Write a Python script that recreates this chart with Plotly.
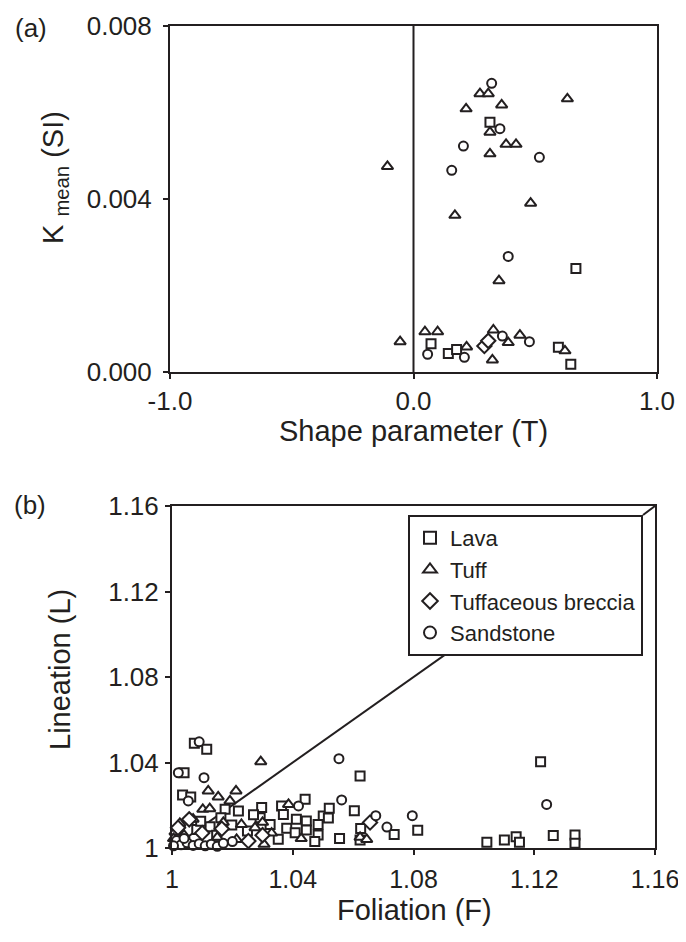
import plotly.graph_objects as go

# ---------------- Panel (a): Shape parameter T vs K mean ----------------
a_lava_T = [0.314, 0.667, 0.072, 0.143, 0.177, 0.595, 0.646]
a_lava_K = [0.00577, 0.00239, 0.00065, 0.00043, 0.00052, 0.00057, 0.00018]

a_tuff_T = [-0.107, 0.273, 0.307, 0.362, 0.216, 0.314, 0.314, 0.632, 0.380, 0.421,
            0.481, 0.170, 0.351, 0.328, 0.389, 0.437, 0.324, 0.622, -0.055, 0.047,
            0.099, 0.218]
a_tuff_K = [0.00475, 0.00643, 0.00643, 0.00617, 0.00608, 0.00554, 0.00504, 0.00631, 0.00526, 0.00526,
            0.00390, 0.00362, 0.00211, 0.00097, 0.00068, 0.00085, 0.00028, 0.00049, 0.00070, 0.00093,
            0.00093, 0.00058]

a_brec_T = [0.291, 0.307]
a_brec_K = [0.00060, 0.00072]

a_sand_T = [0.321, 0.355, 0.205, 0.157, 0.517, 0.389, 0.365, 0.476, 0.058, 0.209]
a_sand_K = [0.00667, 0.00562, 0.00522, 0.00466, 0.00496, 0.00267, 0.00083, 0.00070, 0.00041, 0.00034]

# ---------------- Panel (b): Foliation F vs Lineation L ----------------
b_lava_F = [1.0074, 1.0115, 1.0040, 1.0035, 1.0062, 1.0441, 1.0297, 1.0363, 1.0176, 1.0220,
            1.0369, 1.0412, 1.0445, 1.0292, 1.0162, 1.0126, 1.0198, 1.0082, 1.0325, 1.0501,
            1.0484, 1.0380, 1.0408, 1.0445, 1.0352, 1.0484, 1.0473, 1.0623, 1.0521, 1.0518,
            1.0604, 1.0625, 1.0736, 1.0814, 1.0555, 1.0623, 1.1043, 1.1101, 1.1140, 1.1151,
            1.1221, 1.1263, 1.1335, 1.1335, 1.0095, 1.0148, 1.0250, 1.0270]
b_lava_L = [1.0490, 1.0462, 1.0352, 1.0248, 1.0239, 1.0228, 1.0189, 1.0197, 1.0181, 1.0173,
            1.0157, 1.0134, 1.0126, 1.0142, 1.0142, 1.0100, 1.0108, 1.0087, 1.0110, 1.0150,
            1.0110, 1.0092, 1.0071, 1.0084, 1.0041, 1.0061, 1.0030, 1.0337, 1.0186, 1.0140,
            1.0174, 1.0091, 1.0063, 1.0083, 1.0044, 1.0037, 1.0027, 1.0037, 1.0053, 1.0027,
            1.0404, 1.0058, 1.0061, 1.0022, 1.0125, 1.0060, 1.0080, 1.0155]

b_tuff_F = [1.0294, 1.0120, 1.0153, 1.0212, 1.0192, 1.0386, 1.0102, 1.0125, 1.0026, 1.0010,
            1.0005, 1.0214, 1.0305, 1.0428, 1.0623, 1.0645, 1.0070, 1.0170, 1.0230, 1.0275,
            1.0330, 1.0040, 1.0150, 1.0300]
b_tuff_L = [1.0404, 1.0267, 1.0239, 1.0267, 1.0220, 1.0204, 1.0181, 1.0184, 1.0115, 1.0075,
            1.0044, 1.0040, 1.0017, 1.0044, 1.0050, 1.0040, 1.0135, 1.0120, 1.0110, 1.0095,
            1.0070, 1.0060, 1.0050, 1.0120]

b_brec_F = [1.0057, 1.0253, 1.0656, 1.0020, 1.0100, 1.0165, 1.0300]
b_brec_L = [1.0134, 1.0033, 1.0119, 1.0095, 1.0070, 1.0090, 1.0060]

b_sand_F = [1.0553, 1.0562, 1.0675, 1.0712, 1.0796, 1.1241, 1.0090, 1.0021, 1.0106, 1.0054,
            1.0419, 1.0015, 1.0030, 1.0050, 1.0070, 1.0090, 1.0110, 1.0130, 1.0150, 1.0170,
            1.0005, 1.0040, 1.0200]
b_sand_L = [1.0418, 1.0225, 1.0151, 1.0098, 1.0151, 1.0204, 1.0497, 1.0352, 1.0329, 1.0220,
            1.0197, 1.0035, 1.0015, 1.0025, 1.0012, 1.0020, 1.0010, 1.0018, 1.0008, 1.0022,
            1.0010, 1.0045, 1.0030]

# 1:1 reference line (L = F)
ref_line = [1.0, 1.12]

a_xticks = [-1.0, 0.0, 1.0]
a_xticklabels = ["-1.0", "0.0", "1.0"]
a_yticks = [0.0, 0.004, 0.008]
a_yticklabels = ["0.000", "0.004", "0.008"]
b_ticks = [1.0, 1.04, 1.08, 1.12, 1.16]
b_ticklabels = ["1", "1.04", "1.08", "1.12", "1.16"]

INK = "#231f20"
FONT = "Liberation Sans, Arial, sans-serif"
W, H = 686, 942
OFF = 8  # page body margin offset


def px(x):
    return (x - OFF) / W


def py(y):
    return 1 - (y - OFF) / H


styles = {
    "Lava": dict(symbol="square", size=9),
    "Tuff": dict(symbol="triangle-up", size=10),
    "Tuffaceous breccia": dict(symbol="diamond", size=11),
    "Sandstone": dict(symbol="circle", size=9),
}


def marker(name):
    s = styles[name]
    return dict(symbol=s["symbol"], size=s["size"], color="white",
                line=dict(color=INK, width=2))


fig = go.Figure()

# Panel (b) reference line first (below markers)
fig.add_trace(go.Scatter(x=ref_line, y=ref_line, mode="lines", line=dict(color=INK, width=2),
                         showlegend=False, xaxis="x2", yaxis="y2", hoverinfo="skip"))

panel_a = [("Lava", a_lava_T, a_lava_K), ("Tuff", a_tuff_T, a_tuff_K),
           ("Tuffaceous breccia", a_brec_T, a_brec_K), ("Sandstone", a_sand_T, a_sand_K)]
panel_b = [("Lava", b_lava_F, b_lava_L), ("Tuff", b_tuff_F, b_tuff_L),
           ("Tuffaceous breccia", b_brec_F, b_brec_L), ("Sandstone", b_sand_F, b_sand_L)]

for name, xs, ys in panel_a:
    fig.add_trace(go.Scatter(x=xs, y=ys, mode="markers", marker=marker(name), name=name,
                             showlegend=False, xaxis="x", yaxis="y", cliponaxis=False))
for name, xs, ys in panel_b:
    fig.add_trace(go.Scatter(x=xs, y=ys, mode="markers", marker=marker(name), name=name,
                             showlegend=True, xaxis="x2", yaxis="y2", cliponaxis=False))


def axis_style(size):
    return dict(showline=True, mirror=True, linecolor=INK, linewidth=2,
                ticks="outside", ticklen=5, tickwidth=2, tickcolor=INK,
                showgrid=False, zeroline=False, automargin=False,
                tickfont=dict(family=FONT, size=size, color=INK))


fig.update_layout(
    template="none",
    width=W, height=H,
    margin=dict(l=0, r=0, t=0, b=0, pad=0),
    paper_bgcolor="white", plot_bgcolor="white",
    xaxis=dict(domain=[px(170), px(657)], range=[-1, 1], tickvals=a_xticks,
               ticktext=a_xticklabels, anchor="y", ticklabelstandoff=0, **axis_style(26)),
    yaxis=dict(domain=[py(372), py(25.7)], range=[0, 0.008], tickvals=a_yticks,
               ticktext=a_yticklabels, anchor="x", ticklabelstandoff=6, **axis_style(26)),
    xaxis2=dict(domain=[px(172), px(655)], range=[1, 1.16], tickvals=b_ticks,
                ticktext=b_ticklabels, anchor="y2", ticklabelstandoff=3, **axis_style(25)),
    yaxis2=dict(domain=[py(848), py(506)], range=[1, 1.16], tickvals=b_ticks,
                ticktext=b_ticklabels, anchor="x2", ticklabelstandoff=1, **axis_style(26)),
    legend=dict(x=px(643), y=py(515), xanchor="right", yanchor="top",
                bgcolor="white", bordercolor=INK, borderwidth=2,
                font=dict(family=FONT, size=22, color=INK),
                tracegroupgap=0, itemsizing="constant", itemwidth=30),
    showlegend=True,
)

# vertical line at T = 0 in panel (a)
fig.add_shape(type="line", xref="x", yref="y domain", x0=0, x1=0, y0=0, y1=1,
              line=dict(color=INK, width=2))
# 3D corner of legend box in panel (b)
fig.add_shape(type="line", xref="paper", yref="paper", x0=px(643), y0=py(515),
              x1=px(655), y1=py(506), line=dict(color=INK, width=2))

ann_font = dict(family=FONT, size=29, color=INK)
annotations = [
    dict(text="(a)", x=px(31), y=py(28), font=dict(family=FONT, size=26, color=INK)),
    dict(text="(b)", x=px(30), y=py(505), font=dict(family=FONT, size=26, color=INK)),
    dict(text="Shape parameter (T)", x=px(413), y=py(431), font=ann_font),
    dict(text="Foliation (F)", x=px(414), y=py(910), font=ann_font),
    dict(text="K <sub>mean</sub> (SI)", x=px(55), y=py(177), textangle=-90, font=ann_font),
    dict(text="Lineation (L)", x=px(60), y=py(670), textangle=-90, font=ann_font),
]
for a in annotations:
    fig.add_annotation(xref="paper", yref="paper", showarrow=False,
                       xanchor="center", yanchor="middle", **a)

fig.write_html("out.html")
